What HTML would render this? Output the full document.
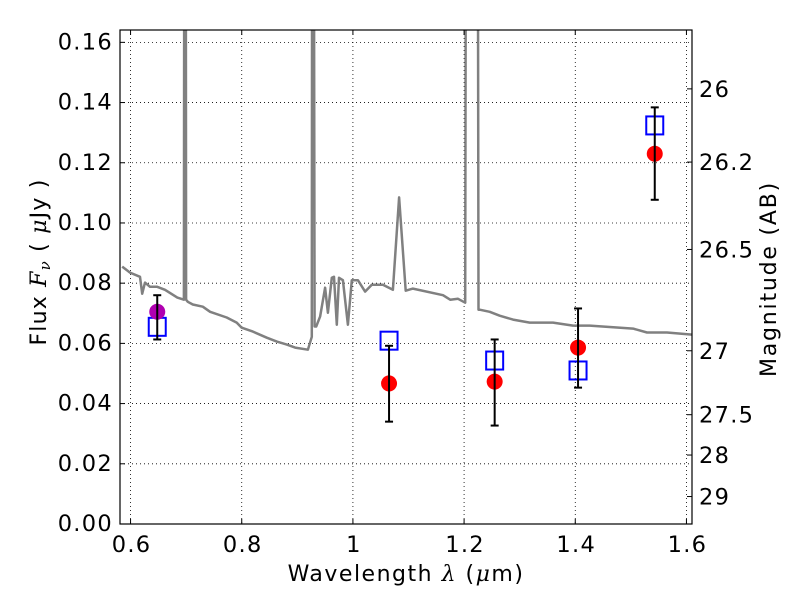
<!DOCTYPE html>
<html><head><meta charset="utf-8"><style>
body{margin:0;background:#fff;}
svg text{font-family:"DejaVu Sans","Liberation Sans",sans-serif;}
</style></head><body>
<svg id="chart" width="800" height="600" xmlns="http://www.w3.org/2000/svg">
<rect width="800" height="600" fill="#fff"/>
<defs><clipPath id="clip"><rect x="120" y="30" width="572" height="494"/></clipPath></defs>
<g id="grid"></g>
<g id="spec" clip-path="url(#clip)"></g>
<g id="marks"></g>
<rect x="120" y="30" width="572" height="494" fill="none" stroke="#000" stroke-width="1.2"/>
<g id="axes"></g>
<text x="406" y="581" font-size="22" letter-spacing="1.5" text-anchor="middle">Wavelength  <tspan font-family="DejaVu Serif,serif" font-style="italic">λ</tspan> (<tspan font-family="DejaVu Serif,serif" font-style="italic">μ</tspan>m)</text>
<text transform="translate(46,262) rotate(-90)" font-size="22" letter-spacing="1.2" text-anchor="middle">Flux  <tspan font-family="DejaVu Serif,serif" font-style="italic">F<tspan font-size="15" dy="4">ν</tspan></tspan><tspan dy="-4">  ( </tspan><tspan font-family="DejaVu Serif,serif" font-style="italic">μ</tspan>Jy )</text>
<text transform="translate(776,279) rotate(-90)" font-size="22" letter-spacing="1.8" text-anchor="middle">Magnitude (AB)</text>
</svg>
<script>
const xTicks=[0.6,0.8,1.0,1.2,1.4,1.6];
const xTickLabels=["0.6","0.8","1","1.2","1.4","1.6"];
const yTicks=[0,0.02,0.04,0.06,0.08,0.10,0.12,0.14,0.16];
const yTickLabels=["0.00","0.02","0.04","0.06","0.08","0.10","0.12","0.14","0.16"];
const magTicks=[26,26.2,26.5,27,27.5,28,29];
const magTickLabels=["26","26.2","26.5","27","27.5","28","29"];
const specWl=[0.585,0.599,0.617,0.621,0.626,0.635,0.648,0.662,0.684,0.696,0.697,0.699,0.700,0.703,0.712,0.730,0.743,0.773,0.791,0.800,0.820,0.845,0.863,0.881,0.896,0.919,0.926,0.927,0.929,0.931,0.934,0.941,0.950,0.955,0.962,0.966,0.971,0.975,0.982,0.991,0.998,1.009,1.022,1.034,1.054,1.072,1.083,1.095,1.108,1.162,1.175,1.189,1.202,1.204,1.224,1.226,1.228,1.246,1.264,1.288,1.318,1.360,1.396,1.426,1.504,1.529,1.565,1.610];
const specFlux=[0.0855,0.0835,0.0821,0.0765,0.0802,0.0788,0.0788,0.0778,0.0752,0.0745,0.3,0.3,0.0745,0.0738,0.0729,0.0722,0.0705,0.0686,0.0669,0.0652,0.0639,0.0619,0.0606,0.0596,0.0586,0.0579,0.0622,0.3,0.3,0.0656,0.0656,0.0689,0.0785,0.0702,0.0818,0.0821,0.0662,0.0818,0.0810,0.0662,0.0810,0.0810,0.0772,0.0795,0.0795,0.0778,0.1085,0.0775,0.0782,0.0760,0.0745,0.0748,0.0735,0.3,0.3,0.0712,0.0712,0.0705,0.0692,0.0679,0.0669,0.0669,0.0659,0.0659,0.0649,0.0636,0.0636,0.0629];
const obsWl=[0.648,1.065,1.255,1.405,1.543];
const obsFlux=[0.0705,0.0467,0.0473,0.0586,0.123];
const obsErrLo=[0.0613,0.034,0.0327,0.0453,0.1077];
const obsErrHi=[0.0760,0.0592,0.0613,0.0716,0.1384];
const modelFlux=[0.0655,0.0609,0.0543,0.051,0.1324];
const obsColors=["#b000b0","red","red","red","red"];

const X0=120,X1=692,Y0=524,Y1=30,xmin=0.581,xmax=1.61,ymin=0,ymax=0.1641;
const sx=v=>X0+(v-xmin)/(xmax-xmin)*(X1-X0);
const sy=v=>Y0-(v-ymin)/(ymax-ymin)*(Y0-Y1);
const magToFlux=m=>Math.pow(10,(23.9-m)/2.5);
const NS="http://www.w3.org/2000/svg";
function mk(tag,attrs,parent){const e=document.createElementNS(NS,tag);for(const k in attrs)e.setAttribute(k,attrs[k]);parent.appendChild(e);return e;}
const grid=document.getElementById('grid'),axes=document.getElementById('axes'),spec=document.getElementById('spec'),marks=document.getElementById('marks');
const TF={'font-size':22.5,'letter-spacing':1.3};
xTicks.forEach((t,i)=>{const x=sx(t);
 let g=mk('line',{x1:x,x2:x,y1:Y1,y2:Y0,stroke:'#000','stroke-width':0.8,'stroke-dasharray':'1,3'},grid);
 
 
 mk('line',{x1:x,x2:x,y1:Y0,y2:Y0-5,stroke:'#000'},axes);
 mk('line',{x1:x,x2:x,y1:Y1,y2:Y1+5,stroke:'#000'},axes);
 let tx=mk('text',{x:x+1,y:Y0+28,'font-size':TF['font-size'],'letter-spacing':TF['letter-spacing'],'text-anchor':'middle'},axes);tx.textContent=xTickLabels[i];
 
 });
yTicks.forEach((t,i)=>{const y=sy(t);
 let g=mk('line',{x1:X0,x2:X1,y1:y,y2:y,stroke:'#000','stroke-width':0.8,'stroke-dasharray':'1,3'},grid);
 
 
 mk('line',{x1:X0,x2:X0+5,y1:y,y2:y,stroke:'#000'},axes);
 let tx=mk('text',{x:X0-7,y:y+7,'font-size':TF['font-size'],'letter-spacing':TF['letter-spacing'],'text-anchor':'end'},axes);tx.textContent=yTickLabels[i];
 
 });
magTicks.forEach((m,i)=>{const y=sy(magToFlux(m));
 mk('line',{x1:X1,x2:X1-5,y1:y,y2:y,stroke:'#000'},axes);
 let tx=mk('text',{x:X1+7,y:y+8,'font-size':TF['font-size'],'letter-spacing':TF['letter-spacing']},axes);tx.textContent=magTickLabels[i];
 
 });
const pts=specWl.map((w,i)=>sx(w).toFixed(1)+','+sy(specFlux[i]).toFixed(1)).join(' ');
const pl=mk('polyline',{points:pts,fill:'none',stroke:'#808080','stroke-width':2.5,'stroke-linejoin':'round'},spec);


obsWl.forEach((w,i)=>{const x=sx(w);
 const sq=mk('rect',{x:x-8.5,y:sy(modelFlux[i])-9,width:17,height:18,fill:'none',stroke:'#0000ff','stroke-width':2},marks);
 
 
 const c=mk('circle',{cx:x,cy:sy(obsFlux[i]),r:8,fill:obsColors[i]},marks);
 
 
 const eb=mk('g',{stroke:'#000','stroke-width':2},marks);
 
 
 const ya=sy(obsErrLo[i]),yb=sy(obsErrHi[i]);
 mk('line',{x1:x,x2:x,y1:ya,y2:yb},eb);
 mk('line',{x1:x-4,x2:x+4,y1:ya,y2:ya},eb);
 mk('line',{x1:x-4,x2:x+4,y1:yb,y2:yb},eb);});
</script>
</body></html>
